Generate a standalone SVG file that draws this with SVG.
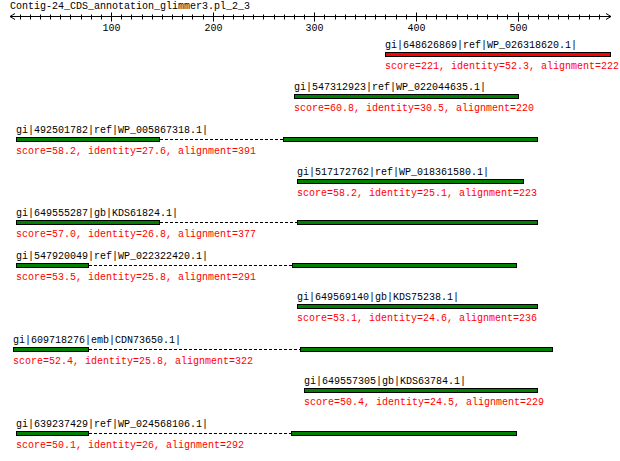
<svg xmlns="http://www.w3.org/2000/svg" width="620" height="461" viewBox="0 0 620 461">
<style>
text{font-family:"Liberation Mono","DejaVu Sans Mono",monospace;font-size:10px;fill:#000}
.sc{fill:#ff0000}
.bar{fill:#008000;stroke:#000;stroke-width:1}
.red{fill:#ff0000;stroke:#000;stroke-width:1}
.ax{stroke:#000;stroke-width:1;fill:none}
.gap{stroke:#000;stroke-width:1;stroke-dasharray:3 2;fill:none}
</style>
<rect width="620" height="461" fill="#fff"/>
<g id="axis">
<text x="10" y="9">Contig-24_CDS_annotation_glimmer3.pl_2_3</text>
<path class="ax" d="M10 16.5H611M15 13.5L10 16.5L15 19.5M606 13.5L611 16.5L606 19.5"/>
<path class="ax" d="M20.5 14.5V19.5M30.5 14.5V19.5M40.5 14.5V19.5M50.5 14.5V19.5M60.5 14.5V19.5M70.5 14.5V19.5M81.5 14.5V19.5M91.5 14.5V19.5M101.5 14.5V19.5M121.5 14.5V19.5M131.5 14.5V19.5M142.5 14.5V19.5M152.5 14.5V19.5M162.5 14.5V19.5M172.5 14.5V19.5M182.5 14.5V19.5M192.5 14.5V19.5M203.5 14.5V19.5M223.5 14.5V19.5M233.5 14.5V19.5M243.5 14.5V19.5M253.5 14.5V19.5M263.5 14.5V19.5M274.5 14.5V19.5M284.5 14.5V19.5M294.5 14.5V19.5M304.5 14.5V19.5M324.5 14.5V19.5M335.5 14.5V19.5M345.5 14.5V19.5M355.5 14.5V19.5M365.5 14.5V19.5M375.5 14.5V19.5M385.5 14.5V19.5M396.5 14.5V19.5M406.5 14.5V19.5M426.5 14.5V19.5M436.5 14.5V19.5M446.5 14.5V19.5M457.5 14.5V19.5M467.5 14.5V19.5M477.5 14.5V19.5M487.5 14.5V19.5M497.5 14.5V19.5M507.5 14.5V19.5M528.5 14.5V19.5M538.5 14.5V19.5M548.5 14.5V19.5M558.5 14.5V19.5M568.5 14.5V19.5M579.5 14.5V19.5M589.5 14.5V19.5M599.5 14.5V19.5"/>
<path class="ax" d="M111.5 12.5V21.5M213.5 12.5V21.5M314.5 12.5V21.5M416.5 12.5V21.5M518.5 12.5V21.5"/>
<g text-anchor="middle">
<text x="111.5" y="31">100</text>
<text x="213.5" y="31">200</text>
<text x="314.5" y="31">300</text>
<text x="416.5" y="31">400</text>
<text x="518.5" y="31">500</text>
</g>
</g>
<g id="connectors">
<path class="gap" d="M160 139.5H283"/>
<path class="gap" d="M160 222.5H297"/>
<path class="gap" d="M89 265.5H292"/>
<path class="gap" d="M89 349.5H300"/>
<path class="gap" d="M89 433.5H291"/>
</g>
<g id="hit1">
<text x="385" y="48">gi|648626869|ref|WP_026318620.1|</text>
<rect class="red" x="385.5" y="52.5" width="225" height="4"/>
<text class="sc" x="385" y="69">score=221, identity=52.3, alignment=222</text>
</g>
<g id="hit2">
<text x="294" y="90">gi|547312923|ref|WP_022044635.1|</text>
<rect class="bar" x="294.5" y="94.5" width="224" height="4"/>
<text class="sc" x="294" y="111">score=60.8, identity=30.5, alignment=220</text>
</g>
<g id="hit3">
<text x="16" y="133">gi|492501782|ref|WP_005867318.1|</text>
<rect class="bar" x="16.5" y="137.5" width="143" height="4"/>
<rect class="bar" x="283.5" y="137.5" width="254" height="4"/>
<text class="sc" x="16" y="154">score=58.2, identity=27.6, alignment=391</text>
</g>
<g id="hit4">
<text x="297" y="175">gi|517172762|ref|WP_018361580.1|</text>
<rect class="bar" x="297.5" y="179.5" width="226" height="4"/>
<text class="sc" x="297" y="196">score=58.2, identity=25.1, alignment=223</text>
</g>
<g id="hit5">
<text x="16" y="216">gi|649555287|gb|KDS61824.1|</text>
<rect class="bar" x="16.5" y="220.5" width="143" height="4"/>
<rect class="bar" x="297.5" y="220.5" width="240" height="4"/>
<text class="sc" x="16" y="237">score=57.0, identity=26.8, alignment=377</text>
</g>
<g id="hit6">
<text x="16" y="259">gi|547920049|ref|WP_022322420.1|</text>
<rect class="bar" x="16.5" y="263.5" width="72" height="4"/>
<rect class="bar" x="292.5" y="263.5" width="224" height="4"/>
<text class="sc" x="16" y="280">score=53.5, identity=25.8, alignment=291</text>
</g>
<g id="hit7">
<text x="297" y="300">gi|649569140|gb|KDS75238.1|</text>
<rect class="bar" x="297.5" y="304.5" width="240" height="4"/>
<text class="sc" x="297" y="321">score=53.1, identity=24.6, alignment=236</text>
</g>
<g id="hit8">
<text x="13" y="343">gi|609718276|emb|CDN73650.1|</text>
<rect class="bar" x="13.5" y="347.5" width="75" height="4"/>
<rect class="bar" x="300.5" y="347.5" width="252" height="4"/>
<text class="sc" x="13" y="364">score=52.4, identity=25.8, alignment=322</text>
</g>
<g id="hit9">
<text x="304" y="384">gi|649557305|gb|KDS63784.1|</text>
<rect class="bar" x="304.5" y="388.5" width="233" height="4"/>
<text class="sc" x="304" y="405">score=50.4, identity=24.5, alignment=229</text>
</g>
<g id="hit10">
<text x="16" y="427">gi|639237429|ref|WP_024568106.1|</text>
<rect class="bar" x="16.5" y="431.5" width="72" height="4"/>
<rect class="bar" x="291.5" y="431.5" width="225" height="4"/>
<text class="sc" x="16" y="448">score=50.1, identity=26, alignment=292</text>
</g>
</svg>
